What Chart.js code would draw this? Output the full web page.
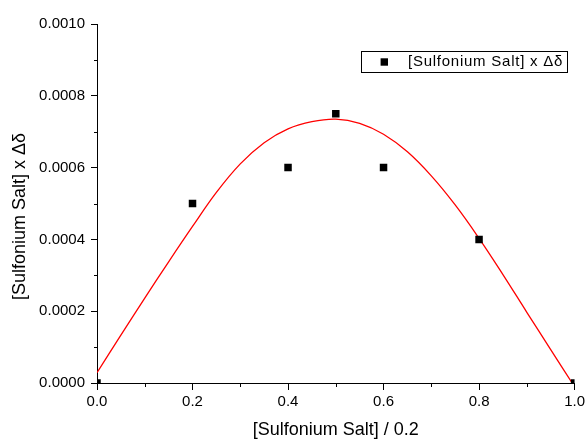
<!DOCTYPE html>
<html><head><meta charset="utf-8">
<script src="https://cdn.jsdelivr.net/npm/chart.js@4/dist/chart.umd.min.js"></script>
<style>html,body{margin:0;padding:0;background:#fff;overflow:hidden}</style>
</head><body>
<canvas id="c" width="588" height="440"></canvas>
<script>
// measured points
const measuredX = [0, 0.2, 0.4, 0.5, 0.6, 0.8, 1.0];
const measuredY = [0, 0.0005, 0.0006, 0.00075, 0.0006, 0.0004, 0];
// fitted curve
const fitX = [0, 0.05, 0.10, 0.15, 0.20, 0.25, 0.30, 0.35, 0.40, 0.45, 0.50, 0.55, 0.60, 0.65, 0.70, 0.75, 0.80, 0.85, 0.90, 0.95, 0.995];
const fitY = [0.000029, 0.0001335, 0.0002365, 0.0003375, 0.000436, 0.000531, 0.0006105, 0.0006695, 0.000708, 0.000728, 0.000735, 0.0007235, 0.000693, 0.000644, 0.000577, 0.000496, 0.000403, 0.000302, 0.000197, 0.000093, 0.0];
const xTicks = [0, 0.2, 0.4, 0.6, 0.8, 1.0];
const yTicks = [0, 0.0002, 0.0004, 0.0006, 0.0008, 0.0010];
const seriesLabel = '[Sulfonium Salt] x \u0394\u03B4';
const xTitle = '[Sulfonium Salt] / 0.2';
const yTitle = '[Sulfonium Salt] x \u0394\u03B4';

const FONT = '"Liberation Sans", Arial, sans-serif';

const minorTicks = {
  id: 'minorTicks',
  afterDraw(chart) {
    const ctx = chart.ctx;
    const xs = chart.scales.x, ys = chart.scales.y;
    ctx.save();
    ctx.strokeStyle = '#000';
    ctx.lineWidth = 1;
    for (let i = 0; i < xs.ticks.length - 1; i++) {
      const v = (xs.ticks[i].value + xs.ticks[i + 1].value) / 2;
      const px = Math.round(xs.getPixelForValue(v)) + 0.5;
      ctx.beginPath(); ctx.moveTo(px, xs.top); ctx.lineTo(px, xs.top + 4); ctx.stroke();
    }
    for (let i = 0; i < ys.ticks.length - 1; i++) {
      const v = (ys.ticks[i].value + ys.ticks[i + 1].value) / 2;
      const py = Math.round(ys.getPixelForValue(v)) + 0.5;
      ctx.beginPath(); ctx.moveTo(ys.right, py); ctx.lineTo(ys.right - 3, py); ctx.stroke();
    }
    ctx.restore();
  }
};

const yAxisTitle = {
  id: 'yAxisTitle',
  afterDraw(chart) {
    const { ctx, chartArea } = chart;
    ctx.save();
    ctx.font = '18px ' + FONT;
    ctx.fillStyle = '#000';
    ctx.textAlign = 'center';
    ctx.textBaseline = 'middle';
    ctx.translate(20.5, (chartArea.top + chartArea.bottom) / 2 + 13);
    ctx.rotate(-Math.PI / 2);
    ctx.fillText(yTitle, 0, 0);
    ctx.restore();
  }
};

const boxLegend = {
  id: 'boxLegend',
  afterDraw(chart) {
    const { ctx, chartArea } = chart;
    ctx.save();
    ctx.font = '15px ' + FONT;
    if ('letterSpacing' in ctx) ctx.letterSpacing = '0.75px';
    const tw = ctx.measureText(seriesLabel).width;
    const left = chartArea.left + 264;
    const top = chartArea.top + 27;
    const h = 21;
    const w = 47 + tw + 4;
    ctx.fillStyle = '#fff';
    ctx.fillRect(left, top, w, h);
    ctx.strokeStyle = '#000';
    ctx.lineWidth = 1;
    ctx.strokeRect(Math.round(left) + 0.5, Math.round(top) + 0.5, Math.round(w), h);
    ctx.fillStyle = '#000';
    const s = 7.4;
    ctx.fillRect(left + 23.3 - s / 2, top + h / 2 - s / 2 + 0.5, s, s);
    ctx.textBaseline = 'middle';
    ctx.textAlign = 'left';
    ctx.fillText(seriesLabel, left + 47, top + h / 2 + 0.5);
    ctx.restore();
  }
};

new Chart(document.getElementById('c'), {
  type: 'scatter',
  data: {
    datasets: [
      {
        label: seriesLabel,
        data: measuredX.map((x, i) => ({ x, y: measuredY[i] })),
        pointStyle: 'rect',
        pointRadius: 5.3,
        pointHoverRadius: 5.3,
        backgroundColor: '#000',
        borderColor: '#000',
        borderWidth: 0,
        clip: 0
      },
      {
        label: 'fit',
        data: fitX.map((x, i) => ({ x, y: fitY[i] })),
        showLine: true,
        pointRadius: 0,
        borderColor: '#ff0000',
        borderWidth: 1.3,
        tension: 0.4,
        fill: false,
        clip: 0
      }
    ]
  },
  options: {
    responsive: false,
    animation: false,
    devicePixelRatio: 1,
    layout: { padding: { top: 24, right: 10.5, left: 0, bottom: 0 } },
    plugins: { legend: { display: false }, tooltip: { enabled: false } },
    scales: {
      x: {
        type: 'linear',
        min: 0, max: 1,
        afterBuildTicks: s => { s.ticks = xTicks.map(v => ({ value: v })); },
        afterFit: s => { s.height = 57; },
        ticks: {
          color: '#000',
          font: { family: FONT, size: 15 },
          padding: 3,
          maxRotation: 0,
          callback: v => Number(v).toFixed(1)
        },
        grid: { display: true, drawOnChartArea: false, drawTicks: true, tickLength: 7, tickColor: '#000', color: '#000' },
        border: { display: true, color: '#000', width: 1 },
        title: { display: true, text: xTitle, color: '#000', font: { family: FONT, size: 18, lineHeight: 1 }, padding: { top: 0, bottom: 0.5 } }
      },
      y: {
        type: 'linear',
        min: 0, max: 0.001,
        afterBuildTicks: s => { s.ticks = yTicks.map(v => ({ value: v })); },
        afterFit: s => { s.width = 97; },
        ticks: {
          color: '#000',
          font: { family: FONT, size: 15 },
          padding: 6,
          callback: v => Number(v).toFixed(4)
        },
        grid: { display: true, drawOnChartArea: false, drawTicks: true, tickLength: 6, tickColor: '#000', color: '#000' },
        border: { display: true, color: '#000', width: 1 },
        title: { display: false }
      }
    }
  },
  plugins: [minorTicks, yAxisTitle, boxLegend]
});
</script>
</body></html>
